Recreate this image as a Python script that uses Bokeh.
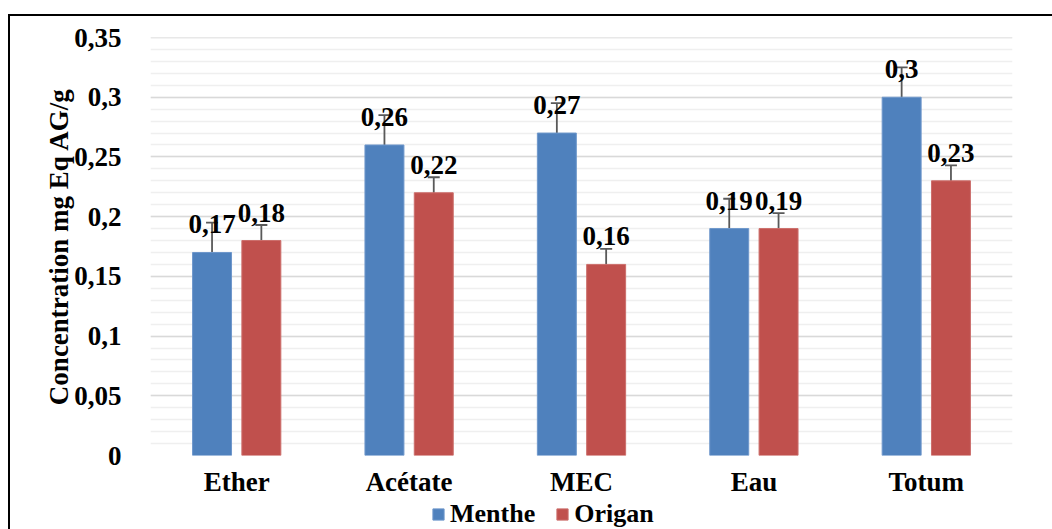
from bokeh.plotting import figure
from bokeh.layouts import column
from bokeh.models import (ColumnDataSource, FactorRange, Range1d, SingleIntervalTicker,
                          CustomJSTickFormatter, Whisker, TeeHead, LabelSet, Legend, LegendItem)
from bokeh.transform import dodge
from bokeh.core.properties import value
from bokeh.embed import file_html
from bokeh.resources import INLINE

categories = ["Ether", "Acétate", "MEC", "Eau", "Totum"]
menthe = [0.17, 0.26, 0.27, 0.19, 0.30]
origan = [0.18, 0.22, 0.16, 0.19, 0.23]
menthe_err = [0.025, 0.025, 0.025, 0.025, 0.025]
origan_err = [0.013, 0.013, 0.013, 0.013, 0.013]
series_names = ["Menthe", "Origan"]
y_title = "Concentration mg Eq AG/g"

FONT = "Liberation Serif"
BLUE = "#4F81BD"
RED = "#C0504D"
ERR = "#595959"
EDGE_B = "#6E97CB"
EDGE_R = "#CC6E6B"

def make_src(vals, errs):
    return ColumnDataSource(dict(
        x=categories, top=vals,
        upper=[v + e for v, e in zip(vals, errs)],
        lower=[v - e for v, e in zip(vals, errs)],
        label=[str(v).replace(".", ",") for v in vals],
    ))

src_m = make_src(menthe, menthe_err)
src_o = make_src(origan, origan_err)

p = figure(x_range=FactorRange(*categories, range_padding=0), y_range=Range1d(0, 0.35001),
           width=1052, height=499, output_backend="svg", toolbar_location=None,
           min_border_left=150, min_border_right=40, min_border_top=37, min_border_bottom=44)
p.border_fill_color = None
p.styles = {"background": "linear-gradient(#000,#000) 8px 14px / 100% 2px no-repeat, "
                          "linear-gradient(#000,#000) 8px 14px / 2px 100% no-repeat, white"}
p.outline_line_color = None
p.background_fill_color = "white"

OFF = 0.143
W = 0.226
rm = p.vbar(x=dodge("x", -OFF, range=p.x_range), top="top", width=W, source=src_m,
            fill_color=BLUE, line_color=EDGE_B, line_width=1)
ro = p.vbar(x=dodge("x", OFF, range=p.x_range), top="top", width=W, source=src_o,
            fill_color=RED, line_color=EDGE_R, line_width=1)

for src, off in ((src_m, -OFF), (src_o, OFF)):
    w = Whisker(base=dodge("x", off, range=p.x_range), upper="upper", lower="lower", source=src,
                line_color=ERR, line_width=1.8,
                upper_head=TeeHead(size=12, line_color=ERR, line_width=1.8),
                lower_head=TeeHead(size=12, line_color=ERR, line_width=1.8))
    p.add_layout(w)
    lbl = LabelSet(x=dodge("x", off, range=p.x_range), y="top", text="label", source=src,
                   y_offset=19, text_align="center", text_baseline="alphabetic",
                   text_font=value(FONT), text_font_style="bold", text_font_size="27px",
                   text_color="black")
    p.add_layout(lbl)

# axes
p.yaxis.ticker = SingleIntervalTicker(interval=0.05, num_minor_ticks=5)
p.yaxis.formatter = CustomJSTickFormatter(code="return (Math.round(tick*100)/100).toString().replace('.', ',');")
for ax in (p.xaxis[0], p.yaxis[0]):
    ax.axis_line_color = None
    ax.major_tick_line_color = None
    ax.minor_tick_line_color = None
    ax.major_label_text_font = FONT
    ax.major_label_text_font_style = "bold"
    ax.major_label_text_font_size = "27px"
    ax.major_label_text_color = "black"
p.yaxis.major_label_standoff = 23
p.xaxis.major_label_standoff = 5
p.yaxis.axis_label = y_title
p.yaxis.axis_label_text_font = FONT
p.yaxis.axis_label_text_font_style = "bold"
p.yaxis.axis_label_text_font_size = "27px"
p.yaxis.axis_label_text_color = "black"
p.yaxis.axis_label_standoff = -3

p.xgrid.grid_line_color = None
p.ygrid.grid_line_color = "#D9D9D9"
p.ygrid.grid_line_width = 1.5
p.ygrid.minor_grid_line_color = "#EFEFEF"
p.ygrid.minor_grid_line_width = 1.4

# legend strip below the chart (its frame is aligned with the chart frame by the column)
lf = figure(width=1052, height=30, x_range=Range1d(0, 1), y_range=Range1d(0, 1),
            output_backend="svg", toolbar_location=None, min_border=0)
lf.axis.visible = False
lf.grid.visible = False
lf.outline_line_color = None
lf.border_fill_color = None
lf.background_fill_color = None
lf.styles = {"background": "linear-gradient(#000,#000) 8px 0 / 2px 100% no-repeat, white"}
# zero-size placeholder renderers that only lend their colours to the legend swatches
lm = lf.vbar(x=[0.5], top=[0], bottom=[0], width=0, fill_color=BLUE, line_color=EDGE_B)
lo = lf.vbar(x=[0.5], top=[0], bottom=[0], width=0, fill_color=RED, line_color=EDGE_R)
legend = Legend(items=[LegendItem(label=series_names[0], renderers=[lm]),
                       LegendItem(label=series_names[1], renderers=[lo])],
                location=(281, 0), orientation="horizontal",
                label_text_font=FONT, label_text_font_style="bold", label_text_font_size="26px",
                label_text_color="black", glyph_width=14, glyph_height=14, label_standoff=5,
                spacing=20, padding=0, margin=0, border_line_color=None,
                background_fill_alpha=0)
lf.add_layout(legend)

layout = column(p, lf, spacing=0)
open("out.html", "w").write(file_html(layout, INLINE))
